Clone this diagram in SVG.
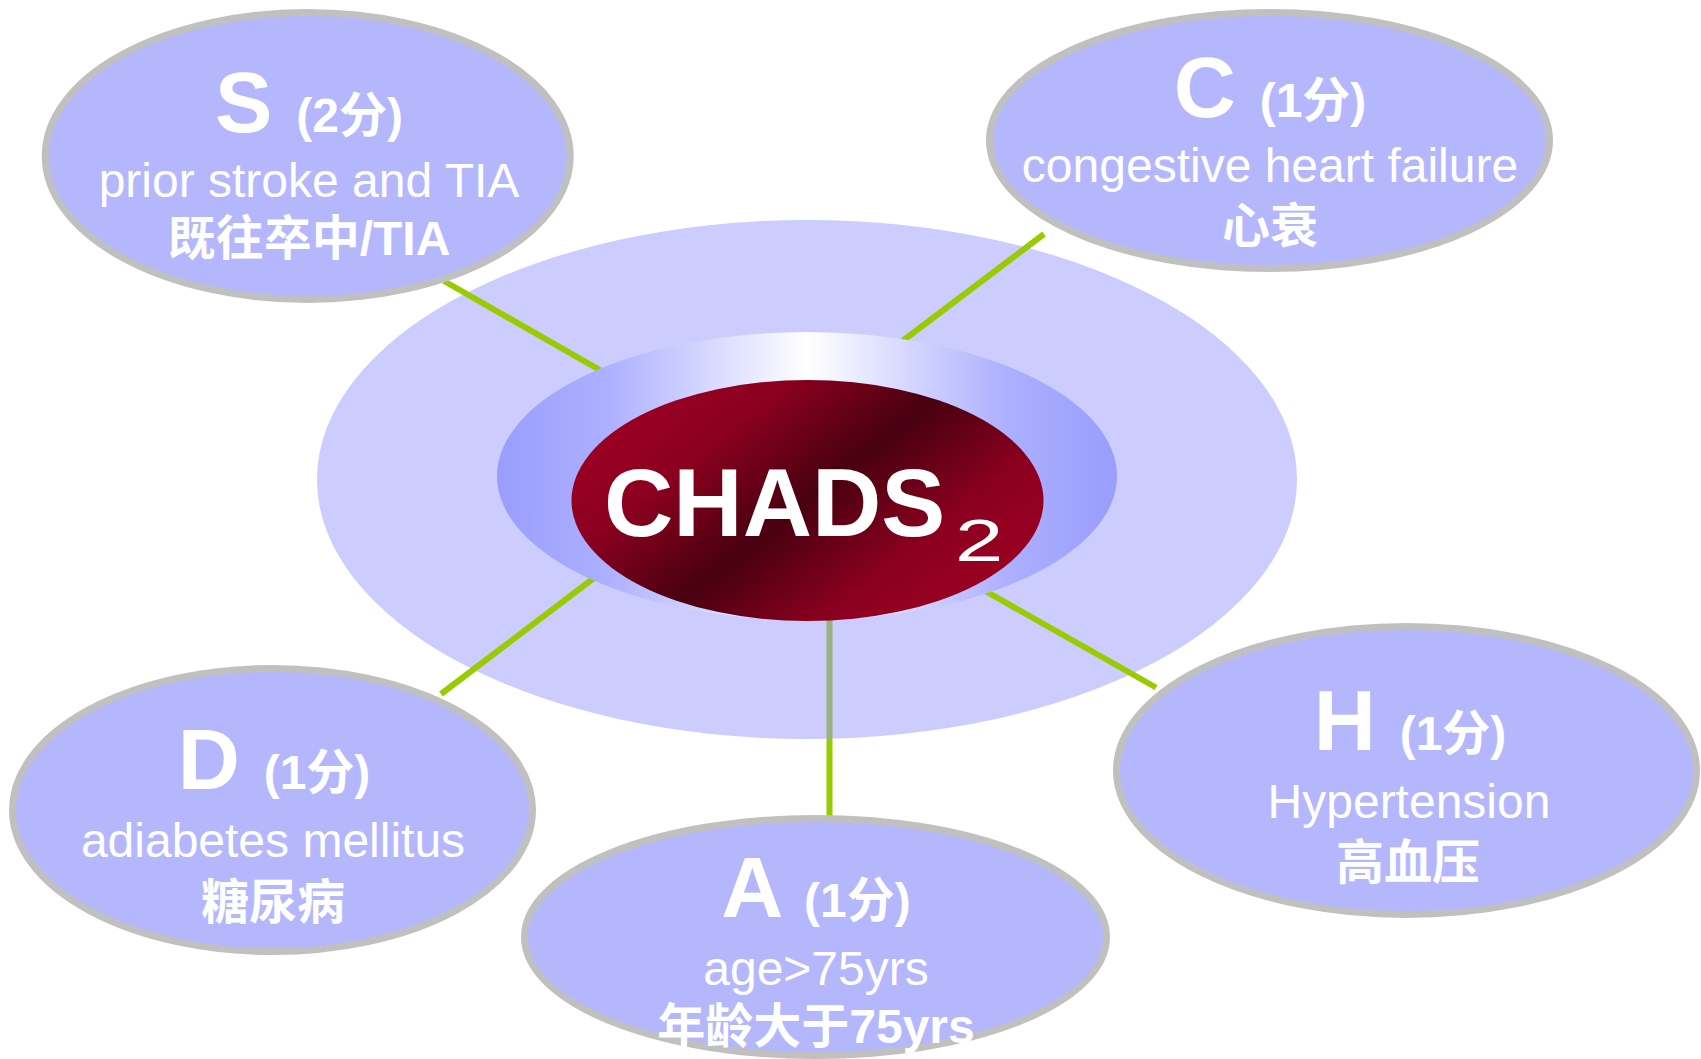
<svg xmlns="http://www.w3.org/2000/svg" width="1701" height="1059" viewBox="0 0 1701 1059">
  <style>
    .node { fill: #b5b7fd; stroke: #c0c0c0; stroke-width: 7; }
    .t { fill: #ffffff; font-family: "Liberation Sans", "Noto Sans CJK SC", Arial, sans-serif; text-anchor: middle; }
    .big { font-size: 86px; font-weight: bold; }
    .pts { font-size: 48px; font-weight: bold; }
    .en { font-size: 48px; font-weight: normal; }
    .zh { font-size: 48px; font-weight: bold; }
    .conn { stroke: #99cc00; stroke-width: 6; fill: none; }
  </style>
  <defs>
    <linearGradient id="ring" x1="0" y1="0" x2="1" y2="0">
      <stop offset="0" stop-color="#999dfc"/>
      <stop offset="0.18" stop-color="#adb0fe"/>
      <stop offset="0.5" stop-color="#ffffff"/>
      <stop offset="0.82" stop-color="#adb0fe"/>
      <stop offset="1" stop-color="#999dfc"/>
    </linearGradient>
    <linearGradient id="red" gradientUnits="userSpaceOnUse" x1="698" y1="363" x2="916" y2="637">
      <stop offset="0" stop-color="#990022"/>
      <stop offset="0.2" stop-color="#8c001f"/>
      <stop offset="0.5" stop-color="#480010"/>
      <stop offset="0.8" stop-color="#8c001f"/>
      <stop offset="1" stop-color="#990022"/>
    </linearGradient>
    <linearGradient id="vline" gradientUnits="userSpaceOnUse" x1="0" y1="600" x2="0" y2="816">
      <stop offset="0" stop-color="#99b380"/>
      <stop offset="0.643" stop-color="#99b380"/>
      <stop offset="0.643" stop-color="#99cc00"/>
      <stop offset="1" stop-color="#99cc00"/>
    </linearGradient>
  </defs>

  <rect x="0" y="0" width="1701" height="1059" fill="#ffffff"/>

  <g id="backdrop">
    <ellipse cx="807" cy="479.5" rx="490" ry="259.5" fill="#ccccff"/>
  </g>

  <g id="connectors">
    <line class="conn" x1="444" y1="281" x2="640" y2="393"/>
    <line class="conn" x1="1044" y1="234" x2="880" y2="358"/>
    <line class="conn" x1="441" y1="694" x2="615" y2="562"/>
    <line class="conn" x1="1156" y1="687.5" x2="965" y2="579.5"/>
    <line x1="829.5" y1="600" x2="829.5" y2="816" stroke="url(#vline)" stroke-width="6"/>
  </g>

  <g id="center">
    <ellipse cx="807" cy="476" rx="310" ry="144" fill="url(#ring)"/>
    <ellipse cx="807.5" cy="500.5" rx="236" ry="120.5" fill="url(#red)"/>
    <text x="604" y="536" fill="#ffffff" font-family="'Liberation Sans', Arial, sans-serif" font-size="96" font-weight="bold">CHADS</text>
    <text transform="translate(955,561) scale(1.45,1)" x="0" y="0" fill="#ffffff" font-family="'Liberation Sans', Arial, sans-serif" font-size="60">2</text>
  </g>

  <g id="node-S">
    <ellipse class="node" cx="307.7" cy="156" rx="262.5" ry="143.5"/>
    <text class="t" x="309" y="132"><tspan class="big">S </tspan><tspan class="pts">(2分)</tspan></text>
    <text class="t en" x="309" y="197">prior stroke and TIA</text>
    <text class="t zh" x="309" y="255">既往卒中/TIA</text>
  </g>

  <g id="node-C">
    <ellipse class="node" cx="1269.5" cy="140.5" rx="280" ry="128"/>
    <text class="t" x="1270" y="117"><tspan class="big">C </tspan><tspan class="pts">(1分)</tspan></text>
    <text class="t en" x="1270" y="182">congestive heart failure</text>
    <text class="t zh" x="1270" y="243">心衰</text>
  </g>

  <g id="node-D">
    <ellipse class="node" cx="272.5" cy="810" rx="260" ry="141.5"/>
    <text class="t" x="274" y="789"><tspan class="big">D </tspan><tspan class="pts">(1分)</tspan></text>
    <text class="t en" x="273" y="857">adiabetes mellitus</text>
    <text class="t zh" x="273" y="919">糖尿病</text>
  </g>

  <g id="node-A">
    <ellipse class="node" cx="815.5" cy="937" rx="291" ry="118.5"/>
    <text class="t" x="816" y="917"><tspan class="big">A </tspan><tspan class="pts">(1分)</tspan></text>
    <text class="t en" x="816" y="985">age&gt;75yrs</text>
    <text class="t zh" x="816" y="1043">年龄大于75yrs</text>
  </g>

  <g id="node-H">
    <ellipse class="node" cx="1406.5" cy="770.5" rx="290" ry="144"/>
    <text class="t" x="1410" y="750"><tspan class="big">H </tspan><tspan class="pts">(1分)</tspan></text>
    <text class="t en" x="1409" y="818">Hypertension</text>
    <text class="t zh" x="1408" y="879">高血压</text>
  </g>
</svg>
